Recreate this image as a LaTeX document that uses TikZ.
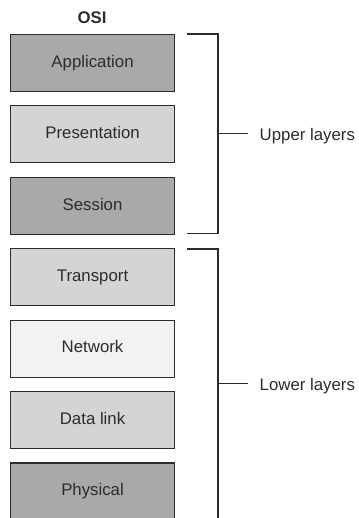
\documentclass[tikz,border=0pt]{standalone}
\usepackage{fontspec}
\usetikzlibrary{calc}
\setmainfont{Liberation Sans}
\definecolor{layerdark}{RGB}{168,169,171}
\definecolor{layerlight}{RGB}{211,212,214}
\definecolor{layerpale}{RGB}{241,242,243}
\definecolor{inkgray}{RGB}{45,43,44}
\tikzset{
  layerbox/.style={draw=inkgray, line width=1.1pt, minimum width=164pt,
    minimum height=57pt, inner sep=0pt, anchor=north west},
  layertext/.style={inner sep=0pt, anchor=base, text=inkgray,
    font=\fontsize{16.8}{20}\selectfont},
  bracket/.style={draw=inkgray, line width=1.1pt},
  sidelabel/.style={inner sep=0pt, anchor=base west, text=inkgray,
    font=\fontsize{16.8}{20}\selectfont}
}
\begin{document}
\begin{tikzpicture}[x=1pt, y=-1pt]
  \useasboundingbox (0,0) rectangle (358,518);
  \clip (0,0) rectangle (358,518);
  % heading
  \node[inner sep=0pt, anchor=base, text=inkgray,
        font=\fontsize{16.8}{20}\selectfont\bfseries] (osi) at (92,23.3) {OSI};
  % the seven layers, top to bottom
  \foreach \name/\label/\shade [count=\i from 0] in {
      app/Application/layerdark,
      pres/Presentation/layerlight,
      sess/Session/layerdark,
      trans/Transport/layerlight,
      net/Network/layerpale,
      dlink/Data link/layerlight,
      phys/Physical/layerdark} {
    \node[layerbox, fill=\shade] (\name) at (10, {34+71.4*\i}) {};
    \node[layertext] (\name-t) at ($(\name.center)+(0,4.3)$) {\label};
  }
  % upper layers bracket
  \coordinate (ua) at (187,34);
  \coordinate (ub) at (218,34);
  \coordinate (uc) at (218,233.5);
  \coordinate (ud) at (187,233.5);
  \coordinate (um) at (218,133.7);
  \node[sidelabel] (upper) at (259.5,140.6) {Upper layers};
  \draw[bracket] (ua) -- (ub) -- (uc) -- (ud);
  \draw[bracket] (um) -- (248.3,133.7) coordinate (ut);
  % lower layers bracket
  \coordinate (la) at (187,249);
  \coordinate (lb) at (218,249);
  \coordinate (lc) at (218,530);
  \coordinate (lm) at (218,383.3);
  \node[sidelabel] (lower) at (259.5,390.2) {Lower layers};
  \draw[bracket] (la) -- (lb) -- (lc);
  \draw[bracket] (lm) -- (248.3,383.3) coordinate (lt);
\end{tikzpicture}
\end{document}
